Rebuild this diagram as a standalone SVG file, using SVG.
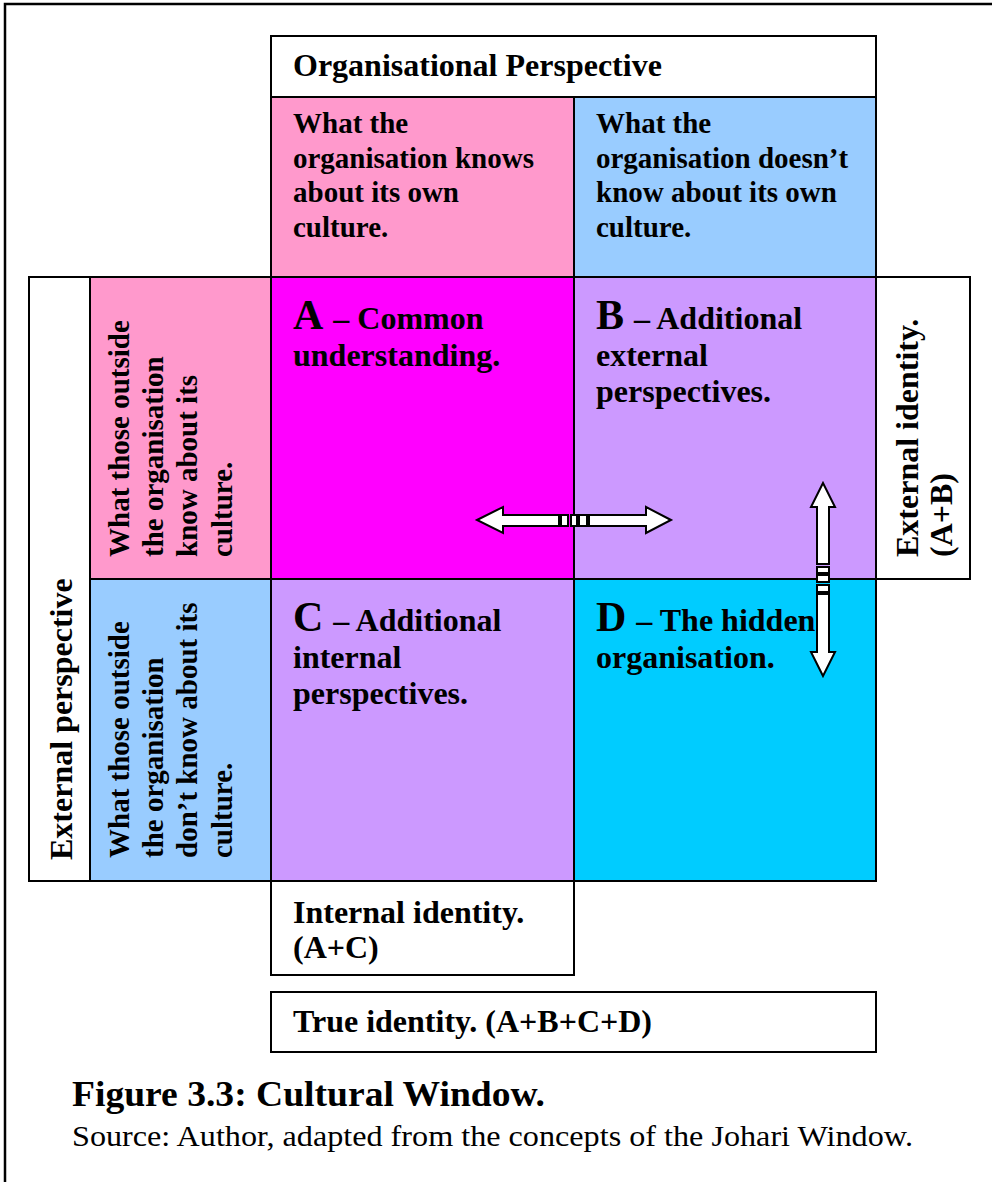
<svg xmlns="http://www.w3.org/2000/svg" width="992" height="1182" viewBox="0 0 992 1182">
  <style>
    .cell { stroke: #000; stroke-width: 2; }
    .t { font-family: "Liberation Serif", "Times New Roman", serif; font-weight: bold; font-size: 29px; fill: #000; }
    .l { font-family: "Liberation Serif", "Times New Roman", serif; font-weight: bold; font-size: 32px; fill: #000; }
    .big { font-size: 42px; }
    .cap { font-family: "Liberation Serif", "Times New Roman", serif; font-weight: bold; font-size: 36px; fill: #000; }
    .src { font-family: "Liberation Serif", "Times New Roman", serif; font-size: 29px; fill: #000; }
    .arrow { fill: #fff; stroke: #000; stroke-width: 2; stroke-linejoin: miter; }
  </style>

  <rect width="992" height="1182" fill="#fff"/>
  <!-- page frame -->
  <path d="M5,1182 V4 H992" fill="none" stroke="#000" stroke-width="2.5"/>

  <g id="org-perspective">
    <rect class="cell" x="271" y="36" width="605" height="61" fill="#fff"/>
    <text class="l" x="293" y="76">Organisational Perspective</text>
  </g>

  <g id="org-knows">
    <rect class="cell" x="271" y="97" width="303" height="180" fill="#FF99CC"/>
    <text class="t" x="293" y="133">What the</text>
    <text class="t" x="293" y="168">organisation knows</text>
    <text class="t" x="293" y="202">about its own</text>
    <text class="t" x="293" y="237">culture.</text>
  </g>

  <g id="org-doesnt-know">
    <rect class="cell" x="574" y="97" width="302" height="180" fill="#99CCFF"/>
    <text class="t" x="596" y="133">What the</text>
    <text class="t" x="596" y="168">organisation doesn’t</text>
    <text class="t" x="596" y="202">know about its own</text>
    <text class="t" x="596" y="237">culture.</text>
  </g>

  <g id="external-perspective">
    <rect class="cell" x="29" y="277" width="61" height="604" fill="#fff"/>
    <text class="l" transform="translate(72,860) rotate(-90)">External perspective</text>
  </g>

  <g id="outside-knows">
    <rect class="cell" x="90" y="277" width="181" height="302" fill="#FF99CC"/>
    <g transform="translate(0,557)">
      <text class="t" transform="translate(129,0) rotate(-90)">What those outside</text>
      <text class="t" transform="translate(163,0) rotate(-90)">the organisation</text>
      <text class="t" transform="translate(197,0) rotate(-90)">know about its</text>
      <text class="t" transform="translate(232,0) rotate(-90)">culture.</text>
    </g>
  </g>

  <g id="outside-doesnt-know">
    <rect class="cell" x="90" y="579" width="181" height="302" fill="#99CCFF"/>
    <g transform="translate(0,858)">
      <text class="t" transform="translate(129,0) rotate(-90)">What those outside</text>
      <text class="t" transform="translate(163,0) rotate(-90)">the organisation</text>
      <text class="t" transform="translate(197,0) rotate(-90)">don’t know about its</text>
      <text class="t" transform="translate(232,0) rotate(-90)">culture.</text>
    </g>
  </g>

  <g id="quadrant-a">
    <rect class="cell" x="271" y="277" width="303" height="302" fill="#FF00FF"/>
    <text class="l" x="293" y="329"><tspan class="big">A</tspan><tspan dx="10">– Common</tspan></text>
    <text class="l" x="293" y="366">understanding.</text>
  </g>

  <g id="quadrant-b">
    <rect class="cell" x="574" y="277" width="302" height="302" fill="#CC99FF"/>
    <text class="l" x="596" y="329"><tspan class="big">B</tspan><tspan dx="10">– Additional</tspan></text>
    <text class="l" x="596" y="366">external</text>
    <text class="l" x="596" y="402">perspectives.</text>
  </g>

  <g id="quadrant-c">
    <rect class="cell" x="271" y="579" width="303" height="302" fill="#CC99FF"/>
    <text class="l" x="293" y="631"><tspan class="big">C</tspan><tspan dx="10">– Additional</tspan></text>
    <text class="l" x="293" y="668">internal</text>
    <text class="l" x="293" y="704">perspectives.</text>
  </g>

  <g id="quadrant-d">
    <rect class="cell" x="574" y="579" width="302" height="302" fill="#00CCFF"/>
    <text class="l" x="596" y="631"><tspan class="big">D</tspan><tspan dx="10">– The hidden</tspan></text>
    <text class="l" x="596" y="668">organisation.</text>
  </g>

  <g id="external-identity">
    <rect class="cell" x="876" y="277" width="94" height="302" fill="#fff"/>
    <text class="l" transform="translate(918,557) rotate(-90)">External identity.</text>
    <text class="l" transform="translate(952,557) rotate(-90)">(A+B)</text>
  </g>

  <g id="internal-identity">
    <rect class="cell" x="271" y="881" width="303" height="94" fill="#fff"/>
    <text class="l" x="293" y="923">Internal identity.</text>
    <text class="l" x="293" y="958">(A+C)</text>
  </g>

  <g id="true-identity">
    <rect class="cell" x="271" y="992" width="605" height="60" fill="#fff"/>
    <text class="l" x="293" y="1032">True identity. (A+B+C+D)</text>
  </g>

  <!-- two-way block arrows between quadrants -->
  <g id="connectors">
    <g id="arrow-a-b">
      <path class="arrow" d="M477,520 L503,507 L503,515 L559,515 L559,526 L503,526 L503,533 Z"/>
      <rect class="arrow" x="561" y="515" width="7" height="11"/>
      <rect class="arrow" x="571" y="515" width="6" height="11"/>
      <rect class="arrow" x="579" y="515" width="8" height="11"/>
      <path class="arrow" d="M671,520 L646,507 L646,515 L589,515 L589,526 L646,526 L646,533 Z"/>
    </g>
    <g id="arrow-b-d">
      <path class="arrow" d="M823,483 L811,507 L817,507 L817,564 L829,564 L829,507 L835,507 Z"/>
      <rect class="arrow" x="817" y="567" width="12" height="6"/>
      <rect class="arrow" x="817" y="575" width="12" height="7"/>
      <rect class="arrow" x="817" y="585" width="12" height="7"/>
      <path class="arrow" d="M823,676 L811,652 L817,652 L817,594 L829,594 L829,652 L835,652 Z"/>
    </g>
  </g>

  <g id="caption">
    <text class="cap" x="72" y="1106" textLength="473" lengthAdjust="spacingAndGlyphs">Figure 3.3: Cultural Window.</text>
    <text class="src" x="72" y="1146" textLength="841" lengthAdjust="spacingAndGlyphs">Source: Author, adapted from the concepts of the Johari Window.</text>
  </g>
</svg>
